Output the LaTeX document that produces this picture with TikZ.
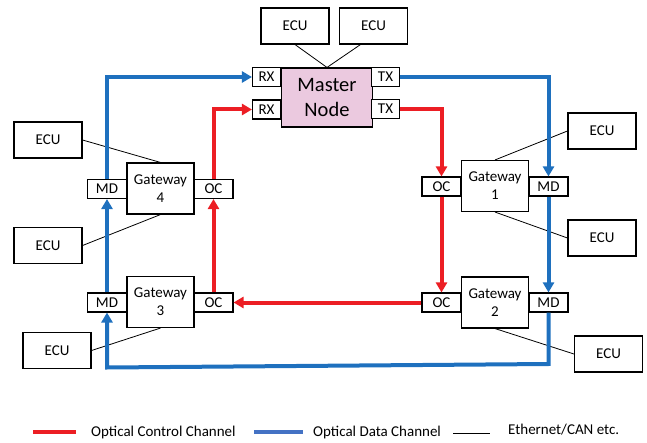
\documentclass[tikz,border=0pt]{standalone}
\usepackage{fontspec}
\setmainfont{Carlito}
\usetikzlibrary{arrows.meta,calc}

\definecolor{ctrlred}{RGB}{236,30,36}
\definecolor{datablue}{RGB}{30,112,190}
\definecolor{legblue}{RGB}{68,114,196}
\definecolor{masterpink}{RGB}{235,201,223}

\tikzset{
  boxtext/.style={font=\fontsize{15}{18}\selectfont},
  unit/.style={draw, line width=1.1pt, fill=white, inner sep=0pt, align=center, boxtext},
  ecu/.style={unit, minimum width=68pt, minimum height=36pt},
  gateway/.style={unit, minimum width=67pt, minimum height=51pt},
  port/.style={unit, minimum width=39pt, minimum height=19pt},
  rxtx/.style={unit, minimum width=28pt, minimum height=19pt},
  master/.style={draw, line width=1.1pt, fill=masterpink, inner sep=0pt, align=center,
    minimum width=91pt, minimum height=59pt, font=\fontsize{20.5}{25}\selectfont},
  ctrl/.style={draw=ctrlred, line width=4pt},
  data/.style={draw=datablue, line width=4pt},
  ctrlarrow/.style={ctrl, -{Triangle[length=10pt,width=11pt]}},
  dataarrow/.style={data, -{Triangle[length=10pt,width=11pt]}},
  bus/.style={draw=black, line width=0.8pt},
  legtext/.style={font=\fontsize{15}{18}\selectfont, anchor=west, inner sep=0pt}
}

\begin{document}
\begin{tikzpicture}[x=1pt,y=-1pt]
\useasboundingbox (0,0) rectangle (647,443);

% master node with its receivers and transmitters
\node[master] (master) at (327,97.5) {Master\\Node};
\node[rxtx] (rxa) at (266.5,77) {RX};
\node[rxtx] (rxb) at (266.5,109.5) {RX};
\node[rxtx] (txa) at (385.5,77) {TX};
\node[rxtx] (txb) at (385.5,109) {TX};
\node[ecu] (ecut1) at (295,26) {ECU};
\node[ecu] (ecut2) at (373.5,26) {ECU};

% gateways on the left
\node[gateway] (gw4) at (160.5,188.5) {Gateway\\4};
\node[port] (md4) at (107,189) {MD};
\node[port] (oc4) at (213.5,189) {OC};
\node[gateway] (gw3) at (160.5,302) {Gateway\\3};
\node[port] (md3) at (107,302.5) {MD};
\node[port] (oc3) at (213.5,302.5) {OC};

% gateways on the right
\node[gateway] (gw1) at (495,186) {Gateway\\1};
\node[port] (oc1) at (441.5,186.5) {OC};
\node[port] (md1) at (548.5,186.5) {MD};
\node[gateway] (gw2) at (495,302.5) {Gateway\\2};
\node[port] (oc2) at (441.5,302.5) {OC};
\node[port] (md2) at (548.5,302.5) {MD};

% ECUs attached to the gateways
\node[ecu] (ecul1) at (48,140) {ECU};
\node[ecu] (ecul2) at (48,245.5) {ECU};
\node[ecu] (ecul3) at (57,350.5) {ECU};
\node[ecu] (ecur1) at (602,131) {ECU};
\node[ecu] (ecur2) at (602,238) {ECU};
\node[ecu] (ecur3) at (608.5,354) {ECU};

% Ethernet/CAN links
\draw[bus] (ecut1.south) -- (master.north);
\draw[bus] ([xshift=-13pt]ecut2.south) -- (master.north);
\draw[bus] (ecul1.east) -- (gw4.north);
\draw[bus] (ecul2.east) -- (gw4.south);
\draw[bus] (ecul3.east) -- (gw3.south);
\draw[bus] (ecur1.west) -- (gw1.north);
\draw[bus] (ecur2.west) -- (gw1.south);
\draw[bus] (ecur3.west) -- (gw2.south);

% optical data channel (blue ring)
\coordinate (bright) at (548.5,364);
\coordinate (bleft) at (107,367.5);
\draw[dataarrow] (md4.north) |- (rxa.west);
\draw[dataarrow] (txa.east) -| (md1.north);
\draw[dataarrow] (md1.south) -- (md2.north);
\draw[dataarrow] (md2.south) -- (bright) -- (bleft) -- (md3.south);
\draw[dataarrow] (md3.north) -- (md4.south);

% optical control channel (red ring)
\draw[ctrlarrow] (oc3.north) -- (oc4.south);
\draw[ctrlarrow] (oc4.north) |- (rxb.west);
\draw[ctrlarrow] (txb.east) -| (oc1.north);
\draw[ctrlarrow] (oc1.south) -- (oc2.north);
\draw[ctrlarrow] (oc2.west) -- (oc3.east);

% legend
\coordinate (lr1) at (33,432);
\coordinate (lr2) at (76,432);
\coordinate (lb1) at (254,432);
\coordinate (lb2) at (303,432);
\coordinate (lk1) at (453,433);
\coordinate (lk2) at (490,433);
\draw[ctrl] (lr1) -- (lr2);
\node[legtext] (lrt) at (91,432) {Optical Control Channel};
\draw[draw=legblue, line width=4pt] (lb1) -- (lb2);
\node[legtext] (lbt) at (313,432) {Optical Data Channel};
\draw[bus] (lk1) -- (lk2);
\node[legtext] (lkt) at (508,430) {Ethernet/CAN etc.};
\end{tikzpicture}
\end{document}
